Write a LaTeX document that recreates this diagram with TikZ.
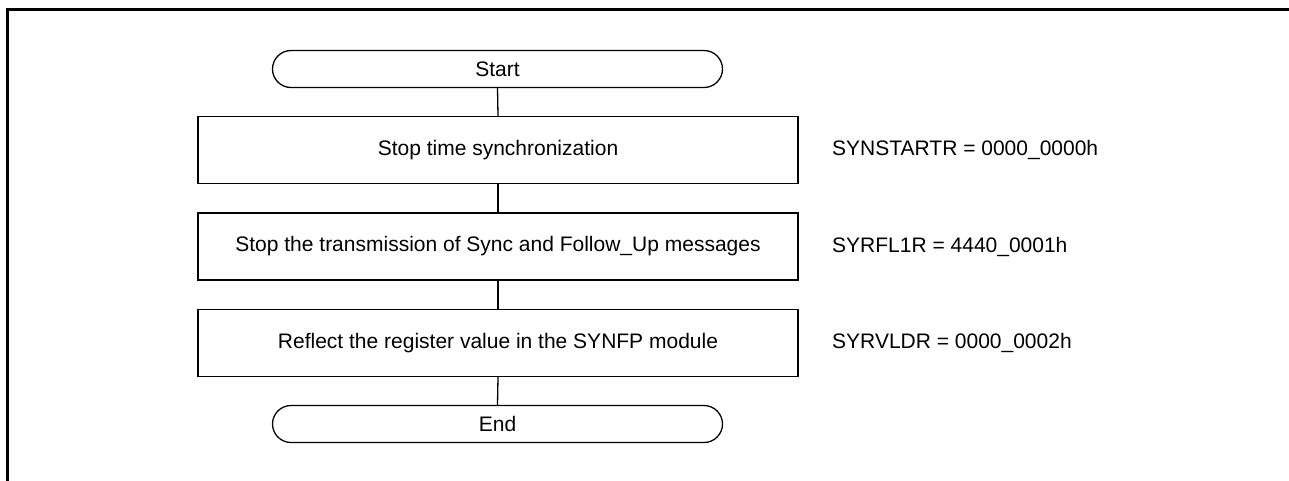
\documentclass[tikz,border=0pt]{standalone}
\usepackage{fontspec}
\setmainfont{Liberation Sans}
\begin{document}
\begin{tikzpicture}[x=1pt,y=-1pt,
  every node/.style={font=\fontsize{21}{25}\selectfont, inner sep=0pt},
  proc/.style={draw, line width=1.3pt, minimum width=600pt, minimum height=67pt},
  term/.style={draw, line width=1.3pt, minimum width=450pt, minimum height=37pt, rounded corners=18.5pt},
  lbl/.style={anchor=west},
  conn/.style={line width=1.3pt}]
\useasboundingbox (0,0) rectangle (1289,480);
\draw[line width=3pt] (7.5,481) -- (7.5,9.5) -- (1290,9.5);
\node[term] (start) at (497.5,69) {Start};
\node[proc] (b1) at (498,150) {Stop time synchronization};
\node[proc] (b2) at (498,246.5) {Stop the transmission of Sync and Follow\_Up messages};
\node[proc] (b3) at (498,343) {Reflect the register value in the SYNFP module};
\node[term] (end) at (497.5,424) {End};
\node[lbl] (l1) at (832,150) {SYNSTARTR = 0000\_0000h};
\node[lbl] (l2) at (832,246.5) {SYRFL1R = 4440\_0001h};
\node[lbl] (l3) at (832,343) {SYRVLDR = 0000\_0002h};
\draw[conn] (start.south) -- (b1.north);
\draw[conn] (b1.south) -- (b2.north);
\draw[conn] (b2.south) -- (b3.north);
\draw[conn] (b3.south) -- (end.north);
\end{tikzpicture}
\end{document}
